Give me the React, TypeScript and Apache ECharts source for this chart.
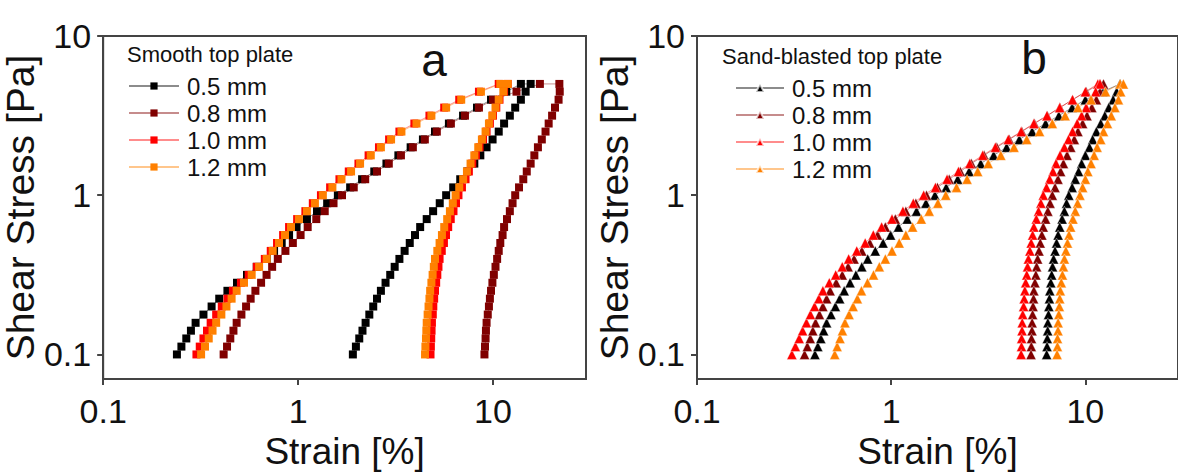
import React, { useEffect, useRef } from "react";
import * as echarts from "echarts";

// Applied shear stress levels [Pa] (log sweep, up and down)
const stress = [0.1, 0.112, 0.126, 0.141, 0.158, 0.178, 0.2, 0.224, 0.251, 0.282, 0.316, 0.355, 0.398, 0.447, 0.501, 0.562, 0.631, 0.708, 0.794, 0.891, 1, 1.12, 1.26, 1.41, 1.58, 1.78, 2, 2.24, 2.51, 2.82, 3.16, 3.55, 3.98, 4.47, 5.0];

const gapLabels = ["0.5 mm", "0.8 mm", "1.0 mm", "1.2 mm"];
const seriesColors = ["#000000", "#800000", "#ff0000", "#ff8000"];
const xTicks = [0.1, 1, 10];
const yTicks = [0.1, 1, 10];

// Panel a: smooth top plate, strain [%] on the up-sweep and down-sweep
const smooth05Up = [0.239, 0.252, 0.267, 0.282, 0.298, 0.327, 0.36, 0.394, 0.434, 0.486, 0.547, 0.614, 0.69, 0.753, 0.824, 0.899, 0.982, 1.11, 1.25, 1.41, 1.6, 1.85, 2.13, 2.46, 2.84, 3.27, 3.78, 4.37, 5.04, 5.94, 7.02, 8.28, 9.77, 11.7, 13.9];
const smooth05Down = [1.91, 1.98, 2.06, 2.14, 2.22, 2.32, 2.43, 2.54, 2.66, 2.81, 2.97, 3.13, 3.31, 3.52, 3.74, 3.98, 4.23, 4.57, 4.93, 5.33, 5.75, 6.25, 6.79, 7.38, 8.02, 8.61, 9.27, 9.95, 10.7, 11.4, 12.2, 13.0, 13.9, 14.7, 15.6];
const smooth08Up = [0.415, 0.432, 0.449, 0.466, 0.484, 0.512, 0.541, 0.571, 0.604, 0.646, 0.689, 0.736, 0.787, 0.861, 0.94, 1.03, 1.12, 1.24, 1.37, 1.52, 1.68, 1.93, 2.21, 2.54, 2.92, 3.37, 3.88, 4.47, 5.15, 6.08, 7.18, 8.47, 10.0, 13.2, 17.4];
const smooth08Down = [9.04, 9.1, 9.16, 9.2, 9.27, 9.4, 9.53, 9.64, 9.77, 9.93, 10.1, 10.3, 10.5, 10.7, 10.9, 11.2, 11.4, 11.8, 12.2, 12.6, 13.0, 13.6, 14.3, 14.9, 15.6, 16.3, 17.0, 17.8, 18.6, 19.3, 20.1, 20.8, 21.7, 22.0, 21.9];
const smooth10Up = [0.301, 0.313, 0.327, 0.341, 0.356, 0.38, 0.406, 0.434, 0.463, 0.509, 0.558, 0.614, 0.675, 0.724, 0.78, 0.838, 0.899, 0.989, 1.09, 1.19, 1.31, 1.46, 1.63, 1.82, 2.04, 2.3, 2.6, 2.93, 3.31, 3.95, 4.72, 5.62, 6.71, 8.47, 10.7];
const smooth10Down = [4.78, 4.8, 4.82, 4.84, 4.86, 4.91, 4.94, 4.99, 5.04, 5.11, 5.18, 5.25, 5.32, 5.46, 5.6, 5.74, 5.89, 6.07, 6.27, 6.46, 6.65, 6.93, 7.23, 7.52, 7.83, 8.17, 8.53, 8.89, 9.27, 9.64, 10.0, 10.4, 10.8, 11.4, 11.9];
const smooth12Up = [0.318, 0.333, 0.348, 0.364, 0.38, 0.404, 0.429, 0.456, 0.484, 0.528, 0.578, 0.631, 0.69, 0.741, 0.798, 0.857, 0.92, 1.01, 1.11, 1.22, 1.34, 1.5, 1.67, 1.87, 2.08, 2.36, 2.66, 3.0, 3.39, 4.05, 4.83, 5.75, 6.87, 8.67, 10.9];
const smooth12Down = [4.48, 4.5, 4.53, 4.55, 4.57, 4.62, 4.67, 4.72, 4.76, 4.83, 4.9, 4.97, 5.04, 5.18, 5.32, 5.47, 5.62, 5.82, 6.01, 6.22, 6.43, 6.71, 7.03, 7.35, 7.67, 8.02, 8.4, 8.77, 9.16, 9.53, 9.91, 10.3, 10.7, 11.3, 11.9];

// Panel b: sand-blasted top plate
const sand05Up = [0.405, 0.419, 0.434, 0.449, 0.465, 0.49, 0.516, 0.543, 0.573, 0.614, 0.658, 0.706, 0.757, 0.828, 0.908, 0.993, 1.09, 1.21, 1.35, 1.51, 1.68, 1.92, 2.2, 2.52, 2.89, 3.37, 3.93, 4.57, 5.32, 6.24, 7.3, 8.55, 10.0, 12.3, 15.1];
const sand05Down = [6.32, 6.35, 6.37, 6.4, 6.41, 6.46, 6.49, 6.53, 6.56, 6.64, 6.71, 6.78, 6.86, 6.98, 7.11, 7.24, 7.38, 7.59, 7.8, 8.0, 8.22, 8.55, 8.87, 9.23, 9.57, 10.0, 10.5, 10.9, 11.4, 12.0, 12.6, 13.2, 13.9, 14.5, 15.1];
const sand08Up = [0.358, 0.37, 0.383, 0.395, 0.408, 0.427, 0.445, 0.465, 0.485, 0.521, 0.56, 0.6, 0.644, 0.706, 0.776, 0.851, 0.933, 1.05, 1.19, 1.34, 1.52, 1.73, 1.99, 2.27, 2.59, 3.01, 3.5, 4.06, 4.71, 5.47, 6.37, 7.4, 8.59, 10.1, 11.9];
const sand08Down = [5.25, 5.27, 5.28, 5.31, 5.32, 5.35, 5.38, 5.41, 5.43, 5.5, 5.56, 5.61, 5.68, 5.77, 5.86, 5.97, 6.07, 6.24, 6.41, 6.58, 6.76, 6.98, 7.23, 7.46, 7.71, 8.05, 8.41, 8.77, 9.16, 9.68, 10.2, 10.8, 11.4, 11.9, 12.4];
const sand10Up = [0.308, 0.321, 0.336, 0.35, 0.366, 0.384, 0.403, 0.424, 0.445, 0.48, 0.518, 0.56, 0.604, 0.665, 0.735, 0.809, 0.893, 1.01, 1.15, 1.3, 1.47, 1.69, 1.94, 2.22, 2.54, 2.96, 3.44, 4.01, 4.67, 5.43, 6.34, 7.38, 8.59, 10.0, 11.6];
const sand10Down = [4.67, 4.69, 4.7, 4.72, 4.73, 4.76, 4.81, 4.84, 4.88, 4.93, 4.99, 5.04, 5.09, 5.18, 5.26, 5.35, 5.43, 5.59, 5.74, 5.9, 6.07, 6.31, 6.55, 6.81, 7.06, 7.41, 7.8, 8.19, 8.59, 9.08, 9.57, 10.1, 10.7, 11.3, 11.9];
const sand12Up = [0.512, 0.527, 0.545, 0.561, 0.578, 0.607, 0.637, 0.67, 0.703, 0.755, 0.811, 0.869, 0.933, 1.01, 1.1, 1.19, 1.29, 1.43, 1.57, 1.74, 1.91, 2.17, 2.46, 2.79, 3.16, 3.67, 4.29, 4.99, 5.81, 6.76, 7.87, 9.16, 10.7, 12.7, 15.1];
const sand12Down = [7.15, 7.18, 7.19, 7.23, 7.24, 7.3, 7.35, 7.38, 7.43, 7.52, 7.62, 7.71, 7.8, 7.94, 8.09, 8.24, 8.4, 8.63, 8.87, 9.12, 9.38, 9.68, 10.0, 10.3, 10.7, 11.1, 11.5, 12.0, 12.4, 13.0, 13.6, 14.2, 14.8, 15.2, 15.7];

const smoothUp = [smooth05Up, smooth08Up, smooth10Up, smooth12Up];
const smoothDown = [smooth05Down, smooth08Down, smooth10Down, smooth12Down];
const sandUp = [sand05Up, sand08Up, sand10Up, sand12Up];
const sandDown = [sand05Down, sand08Down, sand10Down, sand12Down];

const FONT = "'Liberation Sans', Arial, Helvetica, sans-serif";
const AXIS_COLOR = "#444";
const TEXT_COLOR = "#111";

function loop(up: number[], down: number[]) {
  const pts: number[][] = [];
  for (let i = 0; i < stress.length; i++) pts.push([up[i], stress[i]]);
  for (let i = stress.length - 1; i >= 0; i--) pts.push([down[i], stress[i]]);
  return pts;
}

const fmt = (v: number) => String(Number(Number(v).toPrecision(3)));

function makeXAxis(gridIndex: number) {
  return {
    type: "log",
    logBase: 10,
    gridIndex,
    min: 0.1,
    max: 30,
    name: "Strain [%]",
    nameLocation: "middle",
    nameGap: 44,
    nameTextStyle: { fontSize: 37, color: TEXT_COLOR, fontFamily: FONT },
    axisLine: { show: true, lineStyle: { color: AXIS_COLOR, width: 2 } },
    axisTick: { show: true, inside: false, length: 6, customValues: xTicks, lineStyle: { color: AXIS_COLOR, width: 2 } },
    axisLabel: { customValues: xTicks, fontSize: 34, color: TEXT_COLOR, fontFamily: FONT, margin: 15, formatter: fmt },
    splitLine: { show: false },
    minorTick: { show: false },
  };
}

function makeYAxis(gridIndex: number) {
  return {
    type: "log",
    logBase: 10,
    gridIndex,
    min: 0.07,
    max: 10,
    name: "Shear Stress [Pa]",
    nameLocation: "middle",
    nameRotate: 90,
    nameGap: 43,
    nameTextStyle: { fontSize: 39, color: TEXT_COLOR, fontFamily: FONT },
    axisLine: { show: true, lineStyle: { color: AXIS_COLOR, width: 2 } },
    axisTick: { show: true, inside: false, length: 6, customValues: yTicks, lineStyle: { color: AXIS_COLOR, width: 2 } },
    axisLabel: { customValues: yTicks, fontSize: 34, color: TEXT_COLOR, fontFamily: FONT, margin: 12, formatter: fmt },
    splitLine: { show: false },
    minorTick: { show: false },
  };
}

export default function App() {
  const ref = useRef<HTMLDivElement>(null);

  useEffect(() => {
    document.body.style.margin = "0";
    document.body.style.overflow = "hidden";
    if (!ref.current) return;
    const chart = echarts.init(ref.current, undefined, { renderer: "svg" });

    const series: any[] = [];
    gapLabels.forEach((name, k) => {
      series.push({
        type: "line",
        name,
        xAxisIndex: 0,
        yAxisIndex: 0,
        data: loop(smoothUp[k], smoothDown[k]),
        symbol: "rect",
        symbolSize: 8,
        showSymbol: true,
        color: seriesColors[k],
        itemStyle: { color: seriesColors[k] },
        lineStyle: { color: seriesColors[k], width: 1, opacity: 0.45 },
        emphasis: { disabled: true },
        clip: true,
      });
    });
    gapLabels.forEach((name, k) => {
      series.push({
        type: "line",
        name: name + " ",
        xAxisIndex: 1,
        yAxisIndex: 1,
        data: loop(sandUp[k], sandDown[k]),
        symbol: "triangle",
        symbolSize: 10,
        showSymbol: true,
        color: seriesColors[k],
        itemStyle: { color: seriesColors[k], borderColor: "rgba(255,255,255,0.7)", borderWidth: 0.5 },
        lineStyle: { color: seriesColors[k], width: 1, opacity: 0.45 },
        emphasis: { disabled: true },
        clip: true,
      });
    });

    const legendCommon = {
      orient: "vertical",
      itemWidth: 50,
      itemHeight: 9,
      selectedMode: false,
      textStyle: { fontSize: 24, color: TEXT_COLOR, fontFamily: FONT, lineHeight: 24, padding: [0, 0, 0, 3] },
      formatter: (n: string) => n.trim(),
      padding: 0,
    };

    chart.setOption({
      animation: false,
      backgroundColor: "#ffffff",
      grid: [
        { left: 92, top: 36, width: 494, height: 359, show: true, borderColor: AXIS_COLOR, borderWidth: 2, backgroundColor: "transparent" },
        { left: 697, top: 36, width: 494, height: 358, show: true, borderColor: AXIS_COLOR, borderWidth: 2, backgroundColor: "transparent" },
      ],
      xAxis: [makeXAxis(0), makeXAxis(1)],
      yAxis: [makeYAxis(0), makeYAxis(1)],
      legend: [
        { ...legendCommon, left: 128, top: 74, itemGap: 3, data: gapLabels },
        { ...legendCommon, left: 735, top: 76, itemGap: 3, itemWidth: 48, itemHeight: 10, data: gapLabels.map((n) => n + " ") },
      ],
      graphic: [
        { type: "text", left: 127, top: 43, style: { text: "Smooth top plate", fontSize: 22, fill: TEXT_COLOR, fontFamily: FONT } },
        { type: "text", left: 722, top: 45, style: { text: "Sand-blasted top plate", fontSize: 22, fill: TEXT_COLOR, fontFamily: FONT } },
        { type: "text", x: 434, y: 60, style: { text: "a", fontSize: 46, fill: TEXT_COLOR, fontFamily: FONT, align: "center", verticalAlign: "middle" } },
        { type: "text", x: 1034, y: 58, style: { text: "b", fontSize: 46, fill: TEXT_COLOR, fontFamily: FONT, align: "center", verticalAlign: "middle" } },
      ],
      series,
    });

    return () => {
      chart.dispose();
    };
  }, []);

  return <div ref={ref} style={{ width: 1178, height: 475 }} />;
}
